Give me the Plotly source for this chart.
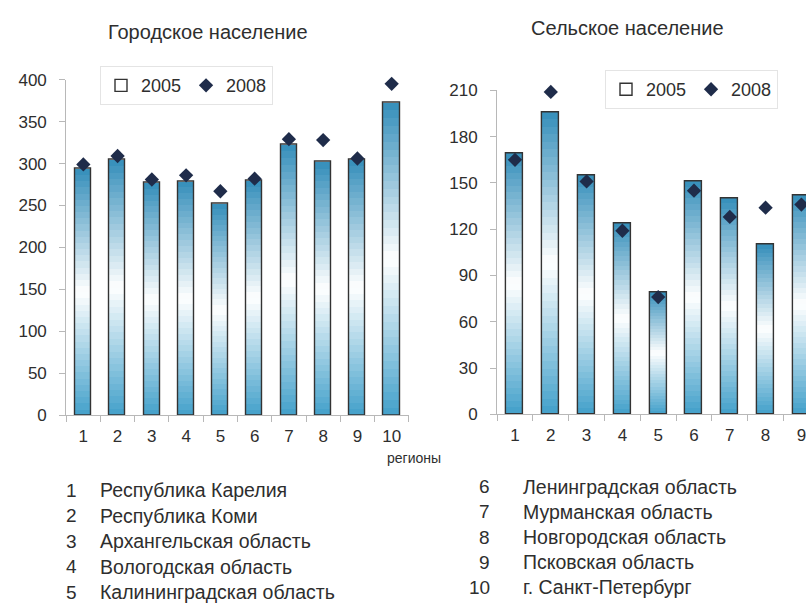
import plotly.graph_objects as go

# ---------------- data ----------------
regions = ["1", "2", "3", "4", "5", "6", "7", "8", "9", "10"]
region_names = ["Республика Карелия", "Республика Коми", "Архангельская область",
                "Вологодская область", "Калининградская область", "Ленинградская область",
                "Мурманская область", "Новгородская область", "Псковская область",
                "г. Санкт-Петербург"]
urban_2005 = [294, 305, 277, 279, 252, 280, 323, 302, 305, 373]
urban_2008 = [299, 309, 281, 286, 267, 282, 329, 328, 306, 395]
rural_2005 = [169, 196, 155, 124, 79, 151, 140, 110, 142, None]
rural_2008 = [165, 209, 151, 119, 76, 145, 128, 134, 136, None]
urban_ticks = [0, 50, 100, 150, 200, 250, 300, 350, 400]
rural_ticks = [0, 30, 60, 90, 120, 150, 180, 210]
title_urban = "Городское население"
title_rural = "Сельское население"
axis_label = "регионы"
series_names = ["2005", "2008"]

W, H = 806, 613
FONT = "Liberation Sans, Arial, sans-serif"
TXT = "#2e2e2e"
AXC = "#b8b8b8"

# gradient (bottom -> top) used for the 2005 bars
grad = [(0.0, (66, 160, 202)), (0.5, (255, 255, 255)), (1.0, (52, 142, 186))]


def gcol(t):
    for (t0, c0), (t1, c1) in zip(grad[:-1], grad[1:]):
        if t0 <= t <= t1:
            f = (t - t0) / (t1 - t0)
            c = [round(a + (b - a) * f) for a, b in zip(c0, c1)]
            return "rgb(%d,%d,%d)" % tuple(c)
    return "rgb(%d,%d,%d)" % grad[-1][1]


fig = go.Figure()
N = 40
BW = 0.47


def add_bars(vals, vals2, xa, ya, leg):
    for i in range(N):
        base = [None if v is None else v * i / N for v in vals]
        ys = [None if v is None else v * (N - i) / N for v in vals]
        fig.add_trace(go.Bar(x=regions, y=ys, base=base, width=BW, xaxis=xa, yaxis=ya,
                             marker=dict(color=gcol((i + 0.5) / N), line=dict(width=0)),
                             showlegend=False, hoverinfo="skip"))
    fig.add_trace(go.Bar(x=regions, y=vals, width=BW, xaxis=xa, yaxis=ya, name=series_names[0],
                         legend=leg,
                         marker=dict(color="rgba(220,240,250,0)", line=dict(color="#333333", width=1.4))))
    fig.add_trace(go.Scatter(x=regions, y=vals2, mode="markers", xaxis=xa, yaxis=ya,
                             name=series_names[1], legend=leg, cliponaxis=False,
                             marker=dict(symbol="diamond", size=11, color="#1f2c4a")))


add_bars(urban_2005, urban_2008, "x", "y", "legend")
add_bars(rural_2005, rural_2008, "x2", "y2", "legend2")

xcommon = dict(type="category", showline=True, linecolor=AXC, linewidth=1, ticks="outside",
               tickson="boundaries", ticklen=6, tickcolor=AXC, showgrid=False, zeroline=False,
               tickfont=dict(size=17, color=TXT, family=FONT), ticklabelstandoff=5, fixedrange=True)
ycommon = dict(showline=True, linecolor=AXC, linewidth=1, ticks="outside", ticklen=6, tickcolor=AXC,
               showgrid=False, zeroline=False, tickfont=dict(size=17, color=TXT, family=FONT),
               ticklabelstandoff=9, fixedrange=True)

fig.update_layout(
    width=W, height=H, margin=dict(l=0, r=0, t=0, b=0),
    paper_bgcolor="white", plot_bgcolor="white", barmode="overlay", bargap=0,
    font=dict(family=FONT, color=TXT),
    xaxis=dict(xcommon, domain=[66.2 / W, 408.8 / W], range=[-0.5, 9.5], anchor="y"),
    yaxis=dict(ycommon, domain=[(H - 419.3) / H, (H - 72.9) / H], range=[0, 400],
               tickvals=urban_ticks, anchor="x"),
    xaxis2=dict(xcommon, domain=[497.1 / W, 1.0], range=[-0.5, (806 - 497.1) / 35.8 - 0.5], anchor="y2"),
    yaxis2=dict(ycommon, domain=[(H - 418.3) / H, (H - 84) / H], range=[0, 210],
                tickvals=rural_ticks, anchor="x2"),
    legend=dict(x=100 / W, y=1 - 59 / H, xanchor="left", yanchor="top", orientation="h",
                bgcolor="white", bordercolor="#e4e4e4", borderwidth=1,
                font=dict(size=18, color=TXT, family=FONT)),
    legend2=dict(x=605 / W, y=1 - 63 / H, xanchor="left", yanchor="top", orientation="h",
                 bgcolor="white", bordercolor="#e4e4e4", borderwidth=1,
                 font=dict(size=18, color=TXT, family=FONT)),
)

ann = []
ann.append(dict(text=title_urban, x=207.5 / W, y=1 - 24 / H, xref="paper", yref="paper",
                xanchor="center", yanchor="middle", showarrow=False,
                font=dict(size=20, color=TXT, family=FONT)))
ann.append(dict(text=title_rural, x=627.5 / W, y=1 - 20 / H, xref="paper", yref="paper",
                xanchor="center", yanchor="middle", showarrow=False,
                font=dict(size=20, color=TXT, family=FONT)))
ann.append(dict(text=axis_label, x=385 / W, y=1 - 463 / H, xref="paper", yref="paper",
                xanchor="left", yanchor="middle", showarrow=False,
                font=dict(size=14, color=TXT, family=FONT)))
for i, (num, name) in enumerate(zip(regions, region_names)):
    if i < 5:
        ypx = 496.7 + i * 26.3
        xn, xt = 79, 98
    else:
        ypx = 493 + (i - 5) * 26
        xn, xt = 492, 520.5
    ann.append(dict(text=num, x=xn / W, y=1 - ypx / H, xref="paper", yref="paper",
                    xanchor="right", yanchor="middle", showarrow=False,
                    font=dict(size=19, color=TXT, family=FONT)))
    ann.append(dict(text=name, x=xt / W, y=1 - ypx / H, xref="paper", yref="paper",
                    xanchor="left", yanchor="middle", showarrow=False,
                    font=dict(size=19.5, color=TXT, family=FONT)))
fig.update_layout(annotations=ann)

fig.write_html("out.html", config={"displayModeBar": False},
               post_script="document.body.style.margin='0';document.body.style.overflow='hidden';")
